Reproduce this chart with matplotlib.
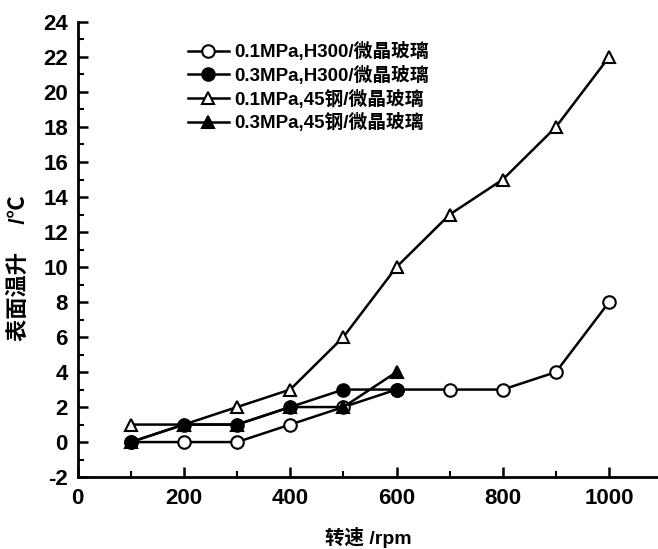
import matplotlib
matplotlib.use("Agg")
import matplotlib.pyplot as plt
from matplotlib.ticker import MultipleLocator

speed_a = [100, 200, 300, 400, 500, 600, 700, 800, 900, 1000]
speed_b = [100, 200, 300, 400, 500, 600]
h300_01 = [0, 0, 0, 1, 2, 3, 3, 3, 4, 8]
h300_03 = [0, 1, 1, 2, 3, 3]
steel_01 = [1, 1, 2, 3, 6, 10, 13, 15, 18, 22]
steel_03 = [0, 1, 1, 2, 2, 4]
labels = ["0.1MPa,H300/微晶玻璃", "0.3MPa,H300/微晶玻璃",
          "0.1MPa,45钢/微晶玻璃", "0.3MPa,45钢/微晶玻璃"]

plt.rcParams['font.family'] = ['Liberation Sans', 'Noto Sans CJK SC']
plt.rcParams['axes.unicode_minus'] = False

fig = plt.figure(figsize=(6.58, 5.49), dpi=100)
ax = fig.add_axes([0.118, 0.131, 0.882, 0.829])

kw = dict(color='black', linewidth=1.8, markersize=9, markeredgewidth=1.5,
          markeredgecolor='black')
ax.plot(speed_a, h300_01, marker='o', markerfacecolor='white', label=labels[0], **kw)
ax.plot(speed_b, h300_03, marker='o', markerfacecolor='black', label=labels[1], **kw)
ax.plot(speed_a, steel_01, marker='^', markerfacecolor='white', label=labels[2], **kw)
ax.plot(speed_b, steel_03, marker='^', markerfacecolor='black', label=labels[3], **kw)

ax.set_xlim(0, 1092)
ax.set_ylim(-2, 24)
ax.xaxis.set_major_locator(MultipleLocator(200))
ax.xaxis.set_minor_locator(MultipleLocator(100))
ax.yaxis.set_major_locator(MultipleLocator(2))
ax.yaxis.set_minor_locator(MultipleLocator(1))
for s in ['top', 'right']:
    ax.spines[s].set_visible(False)
for s in ['left', 'bottom']:
    ax.spines[s].set_linewidth(2)
ax.tick_params(which='major', direction='in', length=7, width=1.8, labelsize=16)
ax.tick_params(axis='y', which='major', pad=7)
ax.tick_params(axis='x', which='major', pad=8)
ax.tick_params(which='minor', direction='in', length=4, width=1.5)
for t in ax.get_xticklabels() + ax.get_yticklabels():
    t.set_fontweight('bold')

ax.set_xlabel("转速 /rpm", fontsize=14, fontweight='bold', labelpad=13)
ax.set_ylabel("表面温升\u3000 /℃", fontsize=16, fontweight='bold')
ax.yaxis.set_label_coords(-0.082, 0.46)

leg = ax.legend(loc='upper left', bbox_to_anchor=(0.17, 0.98), frameon=False,
                fontsize=13.5, handlelength=2.2, handletextpad=0.3,
                labelspacing=0.25, borderaxespad=0.2)
for t in leg.get_texts():
    t.set_fontweight('bold')

fig.savefig("out.png", dpi=100)
